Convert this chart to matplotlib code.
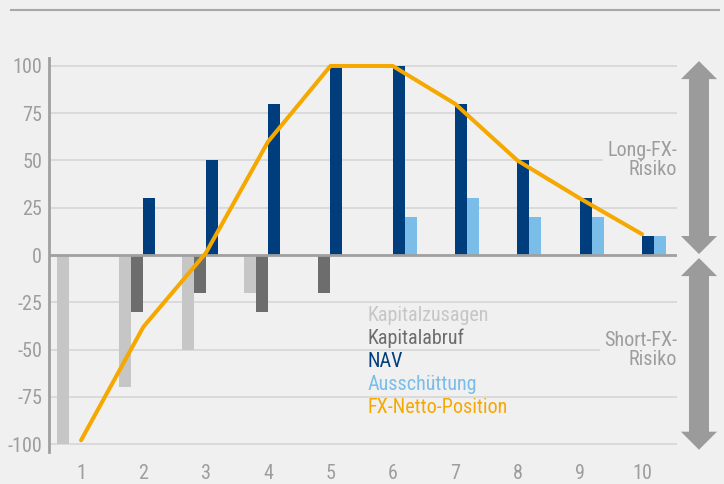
import numpy as np
import matplotlib.pyplot as plt
from matplotlib.lines import Line2D

perioden = np.arange(1, 11)
kapitalzusagen = [-100, -70, -50, -20, 0, 0, 0, 0, 0, 0]
kapitalabruf = [0, -30, -20, -30, -20, 0, 0, 0, 0, 0]
nav = [0, 30, 50, 80, 100, 100, 80, 50, 30, 10]
ausschuettung = [0, 0, 0, 0, 0, 20, 30, 20, 20, 10]
fx_netto = [-98, -38, 1, 60, 100, 100, 80, 50, 30, 11]
y_ticks = [-100, -75, -50, -25, 0, 25, 50, 75, 100]

names = ['Kapitalzusagen', 'Kapitalabruf', 'NAV', 'Ausschüttung', 'FX-Netto-Position']
colors = ['#c6c6c6', '#6d6d6d', '#003d7c', '#79bde8', '#f5a800']

bg = '#f0f0f0'
grey_txt = '#9d9d9d'

plt.rcParams['font.family'] = ['Roboto Condensed', 'DejaVu Sans']
plt.rcParams['axes.unicode_minus'] = False

fig = plt.figure(figsize=(7.24, 4.84), dpi=100, facecolor=bg)
ax = fig.add_axes([0.0677, 0.0669, 0.8674, 0.8124])
ax.set_facecolor(bg)

w = 0.193
series = [kapitalzusagen, kapitalabruf, nav, ausschuettung]
for i, vals in enumerate(series):
    ax.bar(perioden + (i - 1.5) * w, vals, width=w, color=colors[i], zorder=2)

ax.plot(perioden, fx_netto, color=colors[4], lw=2.9, zorder=4, solid_capstyle='round')

ax.set_xlim(0.486, 10.56)
ax.set_ylim(-104, 104)
ax.set_yticks(y_ticks)
ax.set_xticks(perioden)
for y in y_ticks:
    if y != 0:
        ax.axhline(y, color='#d6d6d6', lw=1.2, zorder=0)
ax.axhline(0, color='#a0a0a0', lw=2, zorder=3)

for s in ['top', 'right', 'bottom']:
    ax.spines[s].set_visible(False)
ax.spines['left'].set_color('#a0a0a0')
ax.spines['left'].set_linewidth(2)
ax.tick_params(axis='both', length=0, labelsize=14.5, labelcolor=grey_txt)
ax.tick_params(axis='y', pad=5)
ax.tick_params(axis='x', pad=9)

# legend as coloured text
for i, (name, c) in enumerate(zip(names, colors)):
    ax.text(5.59, -32 - i * 12.1, name, color=c, fontsize=14.5,
            va='center', ha='left', zorder=5)

box = dict(facecolor=bg, edgecolor='none', pad=3)
ax.text(10.56, 50, 'Long-FX-\nRisiko', ha='right', va='center', fontsize=14.5,
        color=grey_txt, linespacing=1.0, bbox=box, zorder=1)
ax.text(10.56, -50, 'Short-FX-\nRisiko', ha='right', va='center', fontsize=14.5,
        color=grey_txt, linespacing=1.0, bbox=box, zorder=1)

# double arrows on the right (two halves overlapping in the middle)
arrow_style = 'simple,head_width=26,head_length=13,tail_width=14.4'
for lo, hi in [(0.5, 102.6), (-1.6, -103)]:
    mid = (lo + hi) / 2
    for end, start in ((lo, mid + (hi - lo) * 0.1), (hi, mid - (hi - lo) * 0.1)):
        ax.annotate('', xy=(1.035, end), xytext=(1.035, start),
                    xycoords=('axes fraction', 'data'), textcoords=('axes fraction', 'data'),
                    annotation_clip=False,
                    arrowprops=dict(arrowstyle=arrow_style, mutation_scale=1,
                                    color='#9b9b9b', shrinkA=0, shrinkB=0, lw=0))

fig.add_artist(Line2D([0.015, 0.993], [0.979, 0.979], color='#a8a8a8', lw=1.5))

fig.savefig('out.png', dpi=100, facecolor=bg)
